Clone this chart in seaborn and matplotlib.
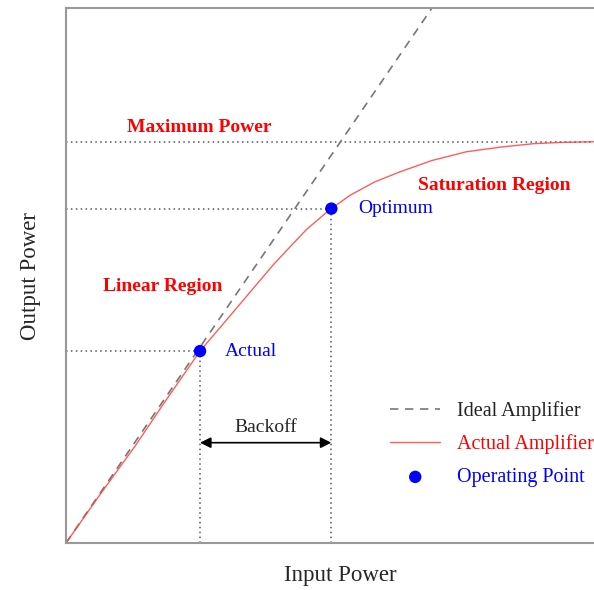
import numpy as np
import pandas as pd
import matplotlib
matplotlib.use('Agg')
import matplotlib.pyplot as plt
import seaborn as sns

# curves (arbitrary power units)
ideal_in = [0.0, 8.0]
ideal_out = [0.0, 8.0]

actual_in = [0.0, 0.75, 1.5, 2.2, 2.93, 3.44, 3.8, 4.17, 4.53, 4.9, 5.26, 5.62, 5.8,
             6.21, 6.75, 7.3, 8.0, 8.75, 9.5, 10.2, 10.8, 11.55, 12.0]
actual_out = [0.0, 0.73, 1.44, 2.15, 2.87, 3.28, 3.57, 3.87, 4.16, 4.43, 4.69, 4.9, 5.0,
              5.2, 5.4, 5.55, 5.72, 5.85, 5.92, 5.97, 5.99, 6.0, 6.0]

op_names = ['Actual', 'Optimum']
op_in = [2.93, 5.8]
op_out = [2.87, 5.0]
max_power = 6.0

sns.set_style('white')
plt.rcParams['font.family'] = ['Liberation Serif', 'DejaVu Serif']

fig = plt.figure(figsize=(5.94, 5.90), dpi=100)
ax = fig.add_axes([66 / 594, 47 / 590, 549 / 594, 535 / 590])

dot = (0, (1, 2.2))
gray = '#555555'

# guide lines to the operating points
ax.axhline(max_power, color=gray, ls=dot, lw=1.1)
for xi, yi in zip(op_in, op_out):
    ax.plot([0, xi], [yi, yi], color=gray, ls=dot, lw=1.1)
    ax.plot([xi, xi], [0, yi], color=gray, ls=dot, lw=1.1)

ideal_df = pd.DataFrame({'x': ideal_in, 'y': ideal_out})
actual_df = pd.DataFrame({'x': actual_in, 'y': actual_out})
op_df = pd.DataFrame({'x': op_in, 'y': op_out, 'name': op_names})

sns.lineplot(data=ideal_df, x='x', y='y', ax=ax, color='#777777', lw=1.2,
             linestyle=(0, (5, 4)), label='Ideal Amplifier', sort=False)
sns.lineplot(data=actual_df, x='x', y='y', ax=ax, color='#ff4040', lw=1.0,
             alpha=0.85, label='Actual Amplifier', sort=False)
sns.scatterplot(data=op_df, x='x', y='y', ax=ax, color='blue', s=80,
                edgecolor='none', label='Operating Point', zorder=5)

# labels of operating points
ax.text(op_in[0] + 0.55, op_out[0], 'Actual', color='blue', fontsize=14, va='center')
ax.text(op_in[1] + 0.58, op_out[1], 'Optimum', color='blue', fontsize=14, va='center')

# region labels
ax.text(2.91, 6.21, 'Maximum Power', color='red', fontsize=14, fontweight='bold',
        ha='center', va='center')
ax.text(9.36, 5.35, 'Saturation Region', color='red', fontsize=14, fontweight='bold',
        ha='center', va='center')
ax.text(2.12, 3.84, 'Linear Region', color='red', fontsize=14, fontweight='bold',
        ha='center', va='center')

# backoff arrow
ax.annotate('', xy=(op_in[0], 1.5), xytext=(op_in[1], 1.5),
            arrowprops=dict(arrowstyle='<|-|>', color='black', lw=1.2,
                            mutation_scale=16, shrinkA=0, shrinkB=0))
ax.text((op_in[0] + op_in[1]) / 2, 1.72, 'Backoff', fontsize=14, ha='center', va='center')

ax.set_xlim(0, 12)
ax.set_ylim(0, 8)
ax.set_xticks([])
ax.set_yticks([])
ax.set_xlabel('Input Power', fontsize=16.5, labelpad=16)
ax.set_ylabel('Output Power', fontsize=16.5, labelpad=18)
for sp in ax.spines.values():
    sp.set_color('#999999')
    sp.set_linewidth(1.5)

leg = ax.legend(loc='center left', bbox_to_anchor=(382 / 594, 1 - 444 / 590),
                bbox_transform=fig.transFigure, frameon=False, fontsize=14.5,
                handlelength=2.5, handletextpad=0.8, labelspacing=0.68,
                borderaxespad=0)
for txt, c in zip(leg.get_texts(), ['#222222', 'red', 'blue']):
    txt.set_color(c)

fig.savefig('out.png', dpi=100)
